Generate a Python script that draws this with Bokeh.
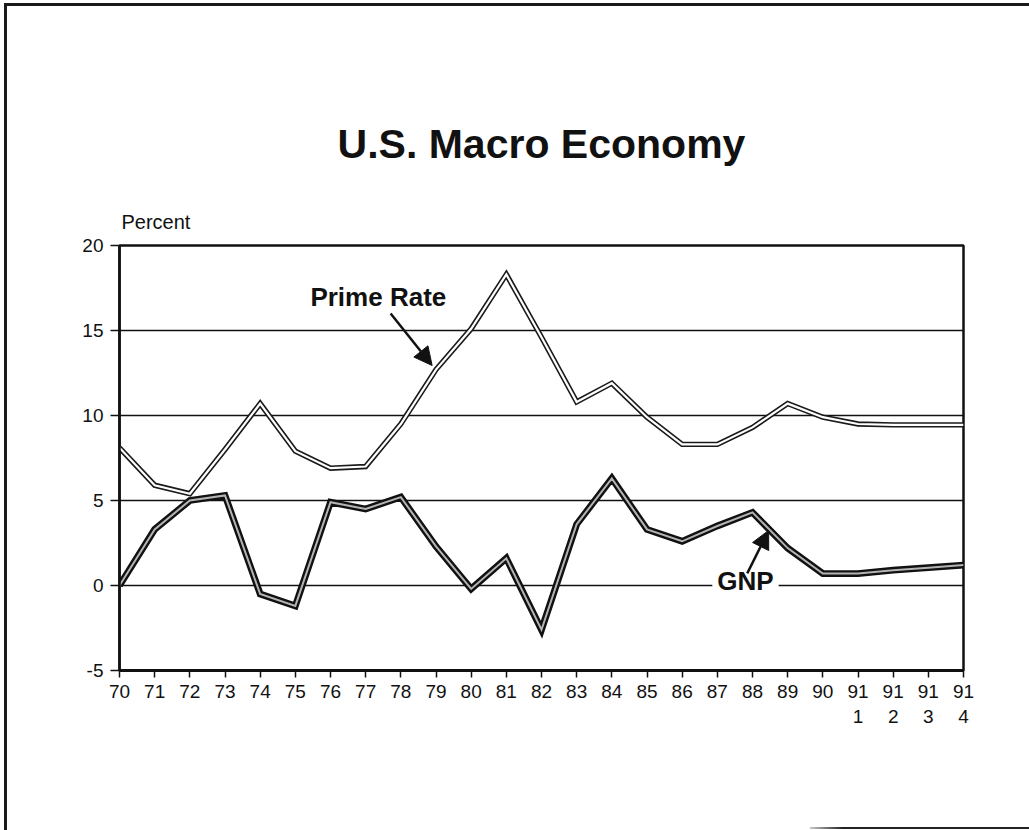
from bokeh.plotting import figure
from bokeh.models import (FixedTicker, Label, Title, Arrow, NormalHead, InlineStyleSheet)
from bokeh.embed import file_html
from bokeh.resources import INLINE

# Periods: annual 1970-1990, then the four quarters of 1991
periods = ["70", "71", "72", "73", "74", "75", "76", "77", "78", "79", "80",
           "81", "82", "83", "84", "85", "86", "87", "88", "89", "90",
           "91\n1", "91\n2", "91\n3", "91\n4"]

# Prime rate, percent
prime_rate = [8.1, 5.9, 5.4, 8.0, 10.7, 7.9, 6.9, 7.0, 9.5, 12.7, 15.1,
              18.3, 14.6, 10.8, 11.9, 9.9, 8.3, 8.3, 9.3, 10.7, 9.9,
              9.5, 9.45, 9.45, 9.45]

# Real GNP growth, percent
gnp = [0.0, 3.3, 5.0, 5.3, -0.5, -1.2, 4.9, 4.5, 5.2, 2.3, -0.2,
       1.6, -2.6, 3.6, 6.3, 3.3, 2.6, 3.5, 4.3, 2.2, 0.7,
       0.7, 0.9, 1.05, 1.2]

y_ticks = [-5, 0, 5, 10, 15, 20]
y_tick_labels = ["-5", "0", "5", "10", "15", "20"]

x = list(range(len(periods)))
FONT = "Liberation Sans"

p = figure(width=1029, height=830, output_backend="svg", toolbar_location=None,
           x_range=(0, len(periods) - 1), y_range=(-5, 20),
           min_border_left=119, min_border_right=66,
           min_border_top=245, min_border_bottom=160,
           background_fill_color="white", border_fill_color="white")

p.outline_line_color = "#111111"
p.outline_line_width = 2.5

# axes
p.xaxis.ticker = FixedTicker(ticks=x)
p.xaxis.major_label_overrides = {i: lab for i, lab in enumerate(periods)}
p.yaxis.ticker = FixedTicker(ticks=y_ticks)
p.yaxis.major_label_overrides = {t: lab for t, lab in zip(y_ticks, y_tick_labels)}
for ax in (p.xaxis[0], p.yaxis[0]):
    ax.axis_line_color = "#111111"
    ax.major_tick_line_color = "#111111"
    ax.major_tick_line_width = 1.5
    ax.major_tick_in = 0
    ax.minor_tick_line_color = None
    ax.major_label_text_font = FONT
    ax.major_label_text_font_size = "19px"
    ax.major_label_text_color = "#111111"
p.xaxis.axis_line_width = 3
p.xaxis.major_tick_out = 7
p.xaxis.major_label_standoff = 3
p.yaxis.axis_line_width = 2.5
p.yaxis.major_tick_out = 9
p.yaxis.major_label_standoff = 7

# horizontal rules at every 5 percent
p.xgrid.grid_line_color = None
p.ygrid.ticker = FixedTicker(ticks=[0, 5, 10, 15])
p.ygrid.grid_line_color = "#111111"
p.ygrid.grid_line_width = 1.6

# Prime rate: thin double line
p.line(x, prime_rate, line_color="#1a1a1a", line_width=5.4, line_join="miter")
p.line(x, prime_rate, line_color="white", line_width=2.2, line_join="miter")

# GNP: heavy line with grey core
p.line(x, gnp, line_color="#111111", line_width=6.8, line_join="miter")
p.line(x, gnp, line_color="#b4b4b4", line_width=2.0, line_join="miter")

# unit caption and chart title above the frame
p.add_layout(Title(text="Percent", align="left", offset=2, standoff=26,
                   text_font=FONT, text_font_style="normal",
                   text_font_size="20px", text_color="#111111"), "above")
p.add_layout(Title(text="U.S. Macro Economy", align="center", offset=0, standoff=58,
                   text_font=FONT, text_font_style="bold",
                   text_font_size="41px", text_color="#111111"), "above")

# series call-outs
p.add_layout(Label(x=7.36, y=17.0, text="Prime Rate", text_align="center",
                   text_baseline="alphabetic", text_font=FONT, text_font_style="bold",
                   text_font_size="26px", text_color="#111111"))
p.add_layout(Arrow(x_start=7.71, y_start=16.0, x_end=8.89, y_end=12.94,
                   line_width=2.5, line_color="#111111",
                   end=NormalHead(size=18, fill_color="#111111", line_color="#111111")))

p.add_layout(Label(x=17.8, y=0.24, text="GNP", text_align="center",
                   text_baseline="alphabetic", text_font=FONT, text_font_style="bold",
                   text_font_size="26px", text_color="#111111",
                   background_fill_color="white", padding=5))
p.add_layout(Arrow(x_start=17.85, y_start=0.71, x_end=18.46, y_end=3.24,
                   line_width=2.5, line_color="#111111",
                   end=NormalHead(size=18, fill_color="#111111", line_color="#111111")))

# page frame lines
p.stylesheets = [InlineStyleSheet(css="""
:host { position: relative; }
:host::before {
  content: ""; position: absolute; left: 4px; top: 3px; right: 0; bottom: 0;
  border-left: 3px solid #1a1a1a; border-top: 3px solid #1a1a1a;
  pointer-events: none; z-index: 10;
}
:host::after {
  content: ""; position: absolute; left: 810px; right: 0; bottom: 1px; height: 2px;
  background: linear-gradient(to right, #c8c8c8, #222222 15%);
  pointer-events: none; z-index: 10;
}
""")]

open("out.html", "w").write(file_html(p, INLINE))
